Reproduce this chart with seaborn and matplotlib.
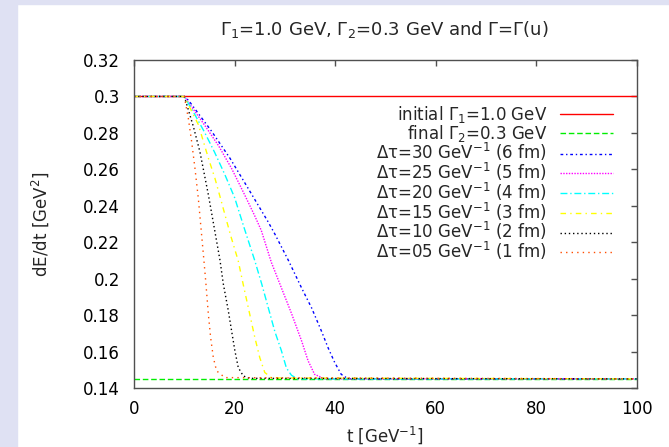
import numpy as np
import pandas as pd
import matplotlib
matplotlib.use("Agg")
import matplotlib.pyplot as plt
from matplotlib.patches import Rectangle
import seaborn as sns

# ---- data -------------------------------------------------------------
t_initial = [0, 100]
e_initial = [0.3, 0.3]
t_final = [0, 100]
e_final = [0.145, 0.145]

t_dt30 = [0, 10, 10.8, 15.4, 19.1, 22.7, 26.7, 28.0, 30.7, 33.3, 35.3, 37.3, 38.6, 39.9, 41.2, 42.6, 100]
e_dt30 = [0.3, 0.3, 0.298, 0.281, 0.266, 0.2495, 0.231, 0.2245, 0.21, 0.195, 0.184, 0.171, 0.162, 0.154, 0.1475, 0.145, 0.145]

t_dt25 = [0, 10, 14.1, 16.8, 19.4, 22.0, 24.0, 25.3, 27.3, 29.3, 31.3, 33.3, 34.6, 35.9, 37.9, 100]
e_dt25 = [0.3, 0.3, 0.284, 0.273, 0.2605, 0.246, 0.2345, 0.2265, 0.209, 0.195, 0.181, 0.166, 0.155, 0.1475, 0.145, 0.145]

t_dt20 = [0, 10, 12, 14, 16, 18, 20, 22, 24, 25.4, 26.7, 28, 29.3, 30.3, 31.3, 32.5, 100]
e_dt20 = [0.3, 0.3, 0.2905, 0.2805, 0.2695, 0.2575, 0.2445, 0.227, 0.21, 0.197, 0.184, 0.171, 0.1605, 0.151, 0.147, 0.145, 0.145]

t_dt15 = [0, 10, 12.8, 14.8, 16.1, 17.4, 19.2, 20.7, 21.7, 23.0, 24.0, 25.0, 26.0, 27.4, 100]
e_dt15 = [0.3, 0.3, 0.2845, 0.266, 0.255, 0.242, 0.2238, 0.21, 0.197, 0.1806, 0.168, 0.1567, 0.1485, 0.1455, 0.145]

t_dt10 = [0, 10, 11.8, 13.1, 14.8, 16.1, 17.1, 17.75, 18.75, 19.4, 20.06, 20.73, 21.73, 23.0, 100]
e_dt10 = [0.3, 0.3, 0.2835, 0.2697, 0.2458, 0.2256, 0.21, 0.1972, 0.1824, 0.1714, 0.1604, 0.1512, 0.1466, 0.1453, 0.145]

t_dt05 = [0, 10, 10.8, 11.46, 12.12, 12.79, 13.45, 13.9, 14.3, 14.78, 15.23, 15.77, 16.42, 18.07, 100]
e_dt05 = [0.3, 0.3, 0.288, 0.2752, 0.2605, 0.244, 0.2238, 0.21, 0.1972, 0.1806, 0.1678, 0.1567, 0.1494, 0.1457, 0.145]

labels = [
    "initial Γ$_1$=1.0 GeV",
    "final Γ$_2$=0.3 GeV",
    "Δτ=30 GeV$^{-1}$ (6 fm)",
    "Δτ=25 GeV$^{-1}$ (5 fm)",
    "Δτ=20 GeV$^{-1}$ (4 fm)",
    "Δτ=15 GeV$^{-1}$ (3 fm)",
    "Δτ=10 GeV$^{-1}$ (2 fm)",
    "Δτ=05 GeV$^{-1}$ (1 fm)",
]
x_ticks = [0, 20, 40, 60, 80, 100]
y_ticks = [0.14, 0.16, 0.18, 0.2, 0.22, 0.24, 0.26, 0.28, 0.3, 0.32]

series = [
    (t_initial, e_initial), (t_final, e_final),
    (t_dt30, e_dt30), (t_dt25, e_dt25), (t_dt20, e_dt20),
    (t_dt15, e_dt15), (t_dt10, e_dt10), (t_dt05, e_dt05),
]

# ---- styling ----------------------------------------------------------
colors = ["#ff0000", "#00ee00", "#0000ff", "#ff00ff", "#00ffff", "#ffff00", "#000000", "#ff4d00"]
styles = ["-", (0, (4, 2)), (0, (2, 2, 1, 2)), (0, (1, 1)), (0, (5, 2, 1, 2)),
          (0, (4, 3, 1, 3)), (0, (1, 2)), (0, (1, 3))]

FS = 12
sns.set_style("white")
plt.rcParams["font.family"] = ["DejaVu Sans"]
plt.rcParams["mathtext.fontset"] = "dejavusans"

W, H = 669, 447
fig = plt.figure(figsize=(W / 100, H / 100), dpi=100)
fig.patch.set_facecolor("white")
band = "#dfe1f3"
fig.add_artist(Rectangle((0, 0), 17 / W, 1, transform=fig.transFigure, color=band, zorder=0))
fig.add_artist(Rectangle((0, 1 - 4 / H), 1, 4 / H, transform=fig.transFigure, color=band, zorder=0))

ax = fig.add_axes([134 / W, 1 - 388 / H, 503 / W, 328 / H])

handles = []
for (tv, ev), c, ls in zip(series, colors, styles):
    df = pd.DataFrame({"t": tv, "E": ev})
    sns.lineplot(data=df, x="t", y="E", ax=ax, color=c, linestyle=ls,
                 linewidth=1.0, estimator=None, sort=False, legend=False)
    handles.append(ax.lines[-1])

ax.set_xlim(0, 100)
ax.set_ylim(0.14, 0.32)
ax.set_xticks(x_ticks)
ax.set_yticks(y_ticks)
ax.set_xticklabels([f"{v:g}" for v in x_ticks])
ax.set_yticklabels([f"{v:g}" for v in y_ticks])
ax.set_xlabel("")
ax.set_ylabel("")

frame = "#505050"
for s in ax.spines.values():
    s.set_color(frame)
    s.set_linewidth(1.0)
ax.tick_params(direction="in", length=4.5, width=1.0, color=frame,
               top=True, right=True, labelsize=FS, labelcolor="black")
ax.tick_params(axis="y", pad=10)
ax.tick_params(axis="x", pad=9)

leg = ax.legend(handles, labels, loc="upper right", bbox_to_anchor=(0.952, 0.866),
                frameon=False, markerfirst=False, fontsize=FS, handlelength=3.2,
                handletextpad=0.75, labelspacing=-0.14, borderpad=0, borderaxespad=0)

fig.text(384 / W, 1 - 30 / H, "Γ$_1$=1.0 GeV, Γ$_2$=0.3 GeV and Γ=Γ(u)",
         ha="center", va="center", fontsize=13)
fig.text(40 / W, 1 - 224 / H, "dE/dt [GeV$^2$]", rotation=90,
         ha="center", va="center", fontsize=FS)
fig.text(385 / W, 1 / H, "t [GeV$^{-1}$]", ha="center", va="bottom", fontsize=FS)

fig.savefig("out.png", dpi=100)
